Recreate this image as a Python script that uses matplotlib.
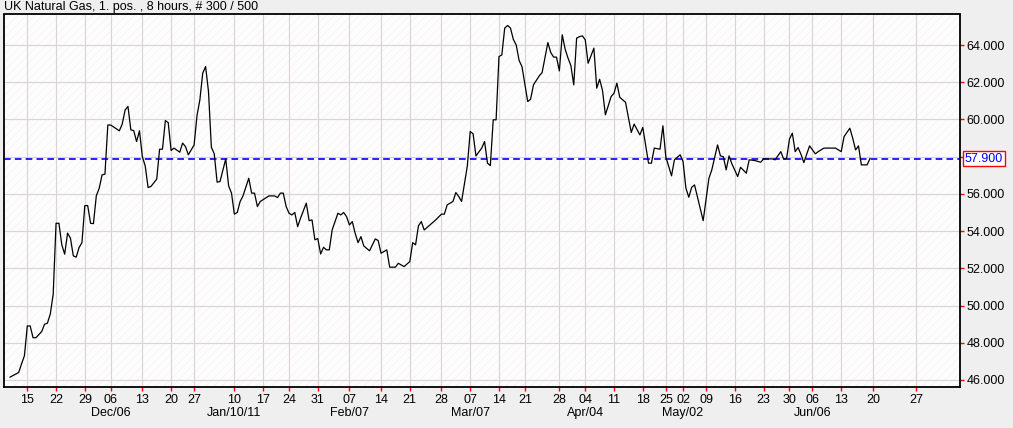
import matplotlib
matplotlib.use("Agg")
import matplotlib.pyplot as plt
import matplotlib.transforms as mtransforms

# 8-hour bars, index 0..299
bars = [0, 3, 4, 5, 6, 7, 8, 9, 11, 12, 13, 14, 15, 16, 17, 18, 19, 20, 21, 22,
        23, 24, 25, 26, 27, 28, 29, 30, 31, 32, 33, 34, 35, 38, 39, 40, 41, 42, 43, 44,
        45, 46, 47, 48, 49, 51, 52, 53, 54, 55, 56, 57, 59, 60, 61, 62, 64, 65, 66, 67,
        68, 69, 70, 71, 72, 73, 75, 76, 77, 78, 79, 80, 81, 83, 84, 85, 86, 87, 90, 92,
        93, 94, 95, 96, 97, 98, 99, 100, 101, 103, 104, 105, 106, 107, 108, 109, 110, 111, 112, 114,
        115, 116, 117, 118, 119, 120, 121, 122, 123, 125, 127, 128, 129, 131, 132, 134, 135, 137, 139, 140,
        141, 142, 143, 144, 147, 148, 150, 151, 152, 154, 155, 156, 157, 158, 159, 160, 161, 162, 164, 165,
        166, 167, 168, 169, 170, 171, 172, 173, 174, 175, 176, 177, 178, 180, 181, 182, 184, 185, 187, 188,
        189, 190, 191, 192, 193, 194, 195, 196, 197, 198, 199, 200, 201, 203, 204, 205, 206, 207, 209, 210,
        211, 212, 214, 216, 217, 219, 220, 222, 223, 224, 226, 227, 228, 230, 231, 233, 234, 235, 236, 237,
        238, 241, 243, 244, 246, 247, 248, 249, 250, 251, 253, 254, 256, 257, 259, 261, 262, 265, 266, 268,
        269, 270, 271, 272, 273, 274, 275, 276, 278, 280, 281, 283, 287, 289, 290, 292, 293, 294, 295, 296,
        298, 299]
prices = [46.15, 46.40, 46.86, 47.30, 48.90, 48.90, 48.27, 48.27, 48.60, 48.99, 49.05, 49.55, 50.60, 54.42, 54.42, 53.26, 52.76, 53.89, 53.62, 52.67,
          52.60, 53.11, 53.38, 55.37, 55.37, 54.42, 54.40, 55.90, 56.30, 57.02, 57.06, 59.70, 59.70, 59.39, 59.75, 60.50, 60.70, 59.44, 59.40, 58.81,
          59.39, 58.00, 57.50, 56.34, 56.40, 56.79, 58.40, 58.40, 59.94, 59.83, 58.33, 58.46, 58.24, 58.73, 58.54, 58.10, 58.63, 60.20, 61.05, 62.49,
          62.84, 61.50, 58.51, 58.15, 56.63, 56.66, 57.88, 56.43, 56.04, 54.91, 55.00, 55.59, 55.89, 56.84, 56.04, 56.04, 55.32, 55.59, 55.89, 55.89,
          55.80, 56.04, 56.04, 55.32, 54.96, 54.87, 55.00, 54.24, 54.69, 55.50, 54.56, 54.60, 53.53, 53.60, 52.77, 53.13, 52.99, 52.99, 54.06, 54.96,
          54.87, 55.00, 54.78, 54.33, 54.51, 53.88, 53.38, 53.70, 53.20, 52.94, 53.58, 53.49, 52.81, 52.99, 52.06, 52.06, 52.27, 52.09, 52.36, 53.38,
          53.26, 54.28, 54.51, 54.06, 54.46, 54.60, 54.91, 54.91, 55.41, 55.59, 56.07, 55.86, 55.59, 56.54, 57.50, 59.35, 59.23, 58.04, 58.46, 58.81,
          57.65, 57.52, 59.98, 59.98, 63.38, 63.47, 64.91, 65.05, 64.91, 64.30, 64.00, 63.17, 62.84, 60.96, 61.09, 61.86, 62.34, 62.52, 64.13, 63.60,
          63.35, 63.35, 62.61, 64.55, 63.78, 63.30, 62.90, 61.86, 64.37, 64.45, 64.49, 64.28, 63.02, 63.83, 61.68, 62.16, 61.56, 60.25, 61.23, 61.41,
          61.95, 61.19, 60.92, 59.30, 59.75, 59.17, 59.57, 57.65, 57.65, 58.46, 58.40, 59.66, 58.00, 56.97, 57.83, 58.10, 57.74, 56.31, 55.82, 56.35,
          56.48, 54.56, 56.84, 57.29, 58.63, 58.04, 58.00, 57.29, 58.04, 57.61, 56.93, 57.43, 57.11, 57.83, 57.79, 57.70, 57.88, 57.88, 57.83, 58.27,
          57.86, 57.91, 58.94, 59.26, 58.27, 58.49, 58.13, 57.68, 58.58, 58.15, 58.27, 58.46, 58.46, 58.27, 59.08, 59.53, 58.99, 58.36, 58.58, 57.56,
          57.56, 57.90]
last_price = 57.90

tick_bars = [6, 16, 26, 35, 46, 56, 64, 78, 88, 97, 107, 118, 129, 139, 150, 160,
             170, 179, 191, 200, 210, 220, 228, 234, 242, 252, 262, 271, 279, 289, 300, 315]
tick_days = ["15", "22", "29", "06", "13", "20", "27", "10", "17", "24", "31", "07", "14", "21", "28", "07",
             "14", "21", "28", "04", "11", "18", "25", "02", "09", "16", "23", "30", "06", "13", "20", "27"]
month_bars = [35, 78, 118, 160, 200, 234, 279]
month_labels = ["Dec/06", "Jan/10/11", "Feb/07", "Mar/07", "Apr/04", "May/02", "Jun/06"]
price_ticks = [46, 48, 50, 52, 54, 56, 58, 60, 62, 64]

plt.rcParams["font.family"] = "Liberation Sans"
plt.rcParams["hatch.linewidth"] = 0.5
fs = 9

fig = plt.figure(figsize=(10.13, 4.28), dpi=100, facecolor="#efefef")
ax = fig.add_axes([4 / 1013, 1 - 387 / 428, 956 / 1013, 372.5 / 428])
ax.set_facecolor("#fdfdfd")
ax.patch.set_hatch("////")
ax.patch.set_edgecolor("#f3f3f3")

ax.plot(bars, prices, color="black", lw=0.9, zorder=3)
ax.axhline(last_price, color="#0000ff", lw=1.2, dashes=(4, 2.5), zorder=2)

ax.set_xlim(-2.1, 330.3)
ax.set_ylim(45.62, 65.64)

ax.yaxis.tick_right()
ax.set_yticks(price_ticks)
ax.set_yticklabels([f"{v:.3f}" for v in price_ticks])
ax.set_xticks(tick_bars)
ax.set_xticklabels(tick_days)
ax.tick_params(axis="both", colors="#ff0000", labelcolor="black", length=3,
               width=1, labelsize=fs, direction="out")
ax.tick_params(axis="x", pad=2)
ax.tick_params(axis="y", pad=1.5)
ax.grid(True, color="#dad3d3", lw=0.8, zorder=1)
ax.set_axisbelow(True)
for sp in ax.spines.values():
    sp.set_color("black")
    sp.set_linewidth(1.3)

trans = mtransforms.blended_transform_factory(ax.transData, ax.transAxes)
for b, lab in zip(month_bars, month_labels):
    ax.annotate(lab, xy=(b, 0), xycoords=trans, xytext=(0, -14.5),
                textcoords="offset points", ha="center", va="top", fontsize=fs)

ax.annotate(f"{last_price:.3f}", xy=(1, last_price),
            xycoords=("axes fraction", "data"), xytext=(3.4, 0),
            textcoords="offset points", ha="left", va="center", fontsize=fs,
            color="#0000ff",
            bbox=dict(boxstyle="square,pad=0.15", fc="white", ec="#ff0000", lw=1))

fig.text(4 / 1013, 1 - 7 / 428, "UK Natural Gas, 1. pos. , 8 hours, # 300 / 500",
         ha="left", va="center", fontsize=fs)

fig.savefig("out.png", dpi=100, facecolor=fig.get_facecolor())
